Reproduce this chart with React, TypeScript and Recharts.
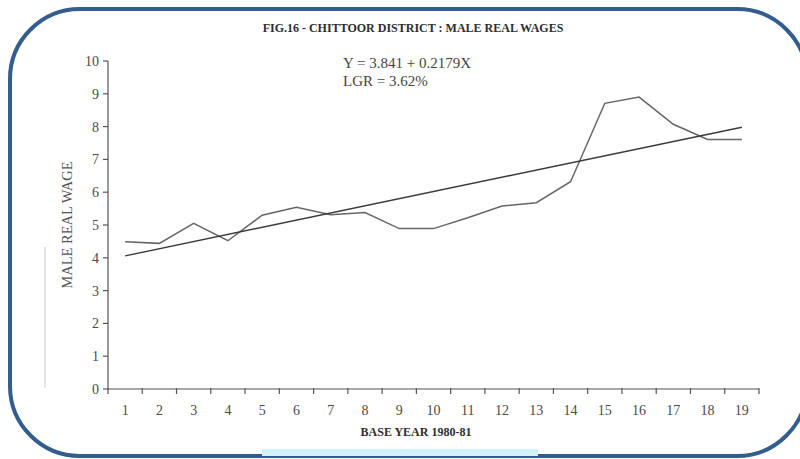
import React from 'react';
import { LineChart, Line, XAxis, YAxis } from 'recharts';

// Base years (1 = 1980-81) and male real wage per year
const years = [1, 2, 3, 4, 5, 6, 7, 8, 9, 10, 11, 12, 13, 14, 15, 16, 17, 18, 19];
const maleRealWage = [4.49, 4.44, 5.05, 4.52, 5.3, 5.54, 5.31, 5.38, 4.89, 4.89, 5.22, 5.58, 5.68, 6.32, 8.71, 8.9, 8.07, 7.61, 7.61];
const yTicks = [0, 1, 2, 3, 4, 5, 6, 7, 8, 9, 10];

// Fitted linear trend: Y = 3.841 + 0.2179X
const trendIntercept = 3.841;
const trendSlope = 0.2179;

const data = years.map((year, i) => ({ year, wage: maleRealWage[i] }));
const trendData = [years[0], years[years.length - 1]].map((year) => ({
  year,
  trend: trendIntercept + trendSlope * year,
}));

// Ticks at band edges (tick marks only) and band centres (year labels)
const xTicks: number[] = [];
years.forEach((y) => {
  xTicks.push(y - 0.5);
  xTicks.push(y);
});
xTicks.push(years[years.length - 1] + 0.5);

const serif = '"Liberation Serif", "Times New Roman", serif';
const inkColor = '#4a4a4a';

const XTick = (props: any) => {
  const { x, y, payload } = props;
  const v = payload.value as number;
  if (Number.isInteger(v)) {
    return (
      <text x={x} y={y + 18} textAnchor="middle" fontFamily={serif} fontSize={14} fill={inkColor}>
        {v}
      </text>
    );
  }
  return <line x1={x} y1={y - 9} x2={x} y2={y - 3} stroke="#555" strokeWidth={1.2} />;
};

export default function App() {
  return (
    <div style={{ position: 'absolute', left: 0, top: 0, width: 800, height: 459, overflow: 'hidden', background: '#fff' }}>
      <LineChart
        width={800}
        height={459}
        data={data}
        margin={{ top: 61, right: 41, bottom: 40, left: 68 }}
      >
        {/* rounded frame */}
        <rect x={10} y={9} width={797} height={447} rx={70} ry={70} fill="none" stroke="#335d8f" strokeWidth={4} />
        <rect x={262} y={449} width={276} height={7} fill="#d2f2fb" />
        <line x1={45} y1={247} x2={45} y2={388} stroke="#c8c8c8" strokeWidth={1} />

        <text x={413} y={32} textAnchor="middle" fontFamily={serif} fontWeight="bold" fontSize={12} fill="#2e2e2e">
          FIG.16 - CHITTOOR DISTRICT : MALE REAL WAGES
        </text>
        <text x={343} y={68} fontFamily={serif} fontSize={15} fill="#444">
          Y = 3.841 + 0.2179X
        </text>
        <text x={343} y={86} fontFamily={serif} fontSize={15} fill="#444">
          LGR = 3.62%
        </text>
        <text
          x={72}
          y={225}
          transform="rotate(-90 72 225)"
          textAnchor="middle"
          fontFamily={serif}
          fontSize={14.5}
          fill="#555"
        >
          MALE REAL WAGE
        </text>
        <text x={416} y={436} textAnchor="middle" fontFamily={serif} fontWeight="bold" fontSize={12} fill="#2e2e2e">
          BASE YEAR 1980-81
        </text>

        <XAxis
          dataKey="year"
          type="number"
          domain={[0.5, 19.5]}
          ticks={xTicks}
          interval={0}
          tick={<XTick />}
          tickLine={false}
          axisLine={{ stroke: '#555', strokeWidth: 1.2 }}
          height={30}
          allowDataOverflow
        />
        <YAxis
          type="number"
          domain={[0, 10]}
          ticks={yTicks}
          interval={0}
          width={40}
          tickSize={5}
          tickMargin={4}
          tickLine={{ stroke: '#555', strokeWidth: 1.2 }}
          axisLine={{ stroke: '#555', strokeWidth: 1.2 }}
          tick={{ fontFamily: serif, fontSize: 14, fill: inkColor }}
        />
        <Line
          dataKey="wage"
          stroke="#666"
          strokeWidth={1.5}
          dot={false}
          isAnimationActive={false}
        />
        <Line
          data={trendData}
          dataKey="trend"
          stroke="#3a3a3a"
          strokeWidth={1.4}
          dot={false}
          isAnimationActive={false}
        />
      </LineChart>
    </div>
  );
}
